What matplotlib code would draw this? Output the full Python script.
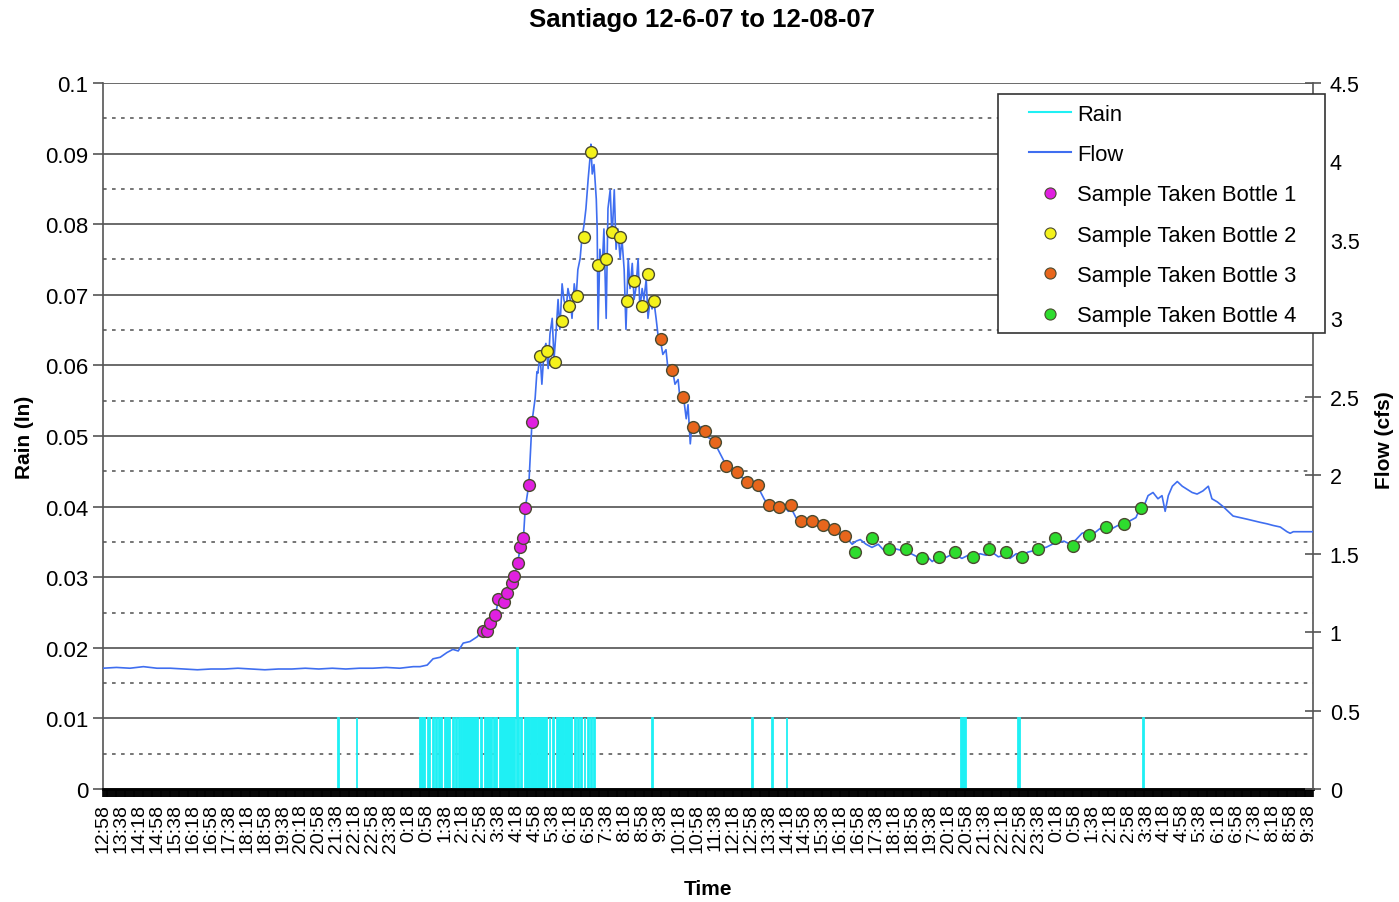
import numpy as np
import matplotlib
matplotlib.use("Agg")
import matplotlib.pyplot as plt
from matplotlib.lines import Line2D
from matplotlib.patches import Rectangle
from matplotlib.ticker import MultipleLocator

plt.rcParams['font.family'] = ['Liberation Sans', 'DejaVu Sans']

# time is in minutes after 12:58 on 12-6-07
time_labels = ["12:58", "13:38", "14:18", "14:58", "15:38", "16:18", "16:58", "17:38",
               "18:18", "18:58", "19:38", "20:18", "20:58", "21:38", "22:18", "22:58",
               "23:38", "0:18", "0:58", "1:38", "2:18", "2:58", "3:38", "4:18", "4:58",
               "5:38", "6:18", "6:58", "7:38", "8:18", "8:58", "9:38", "10:18", "10:58",
               "11:38", "12:18", "12:58", "13:38", "14:18", "14:58", "15:38", "16:18",
               "16:58", "17:38", "18:18", "18:58", "19:38", "20:18", "20:58", "21:38",
               "22:18", "22:58", "23:38", "0:18", "0:58", "1:38", "2:18", "2:58", "3:38",
               "4:18", "4:58", "5:38", "6:18", "6:58", "7:38", "8:18", "8:58", "9:38"]
label_step = 40  # minutes between time labels

rain_ticks = ["0", "0.01", "0.02", "0.03", "0.04", "0.05", "0.06", "0.07", "0.08", "0.09", "0.1"]
flow_ticks = ["0", "0.5", "1", "1.5", "2", "2.5", "3", "3.5", "4", "4.5"]

# rain periods (start minute, end minute, inches)
rain_start = [522, 564, 706, 710, 715, 722, 726, 733, 740, 747, 752, 760, 778, 786, 791, 797,
              801, 841, 849, 854, 869, 875, 883, 921, 923, 930, 938, 952, 968, 993, 1001, 1009,
              1027, 1049, 1056, 1064, 1071, 1078, 1086, 1093, 1221, 1444, 1488, 1520, 1909,
              2034, 2312]
rain_end = [524, 566, 708, 712, 717, 725, 728, 736, 742, 749, 755, 772, 780, 788, 794, 799,
            835, 843, 851, 865, 871, 877, 916, 923, 925, 932, 950, 966, 987, 995, 1003, 1025,
            1042, 1051, 1058, 1066, 1073, 1080, 1088, 1095, 1223, 1446, 1490, 1522, 1920,
            2040, 2314]
rain_in = [0.01, 0.01, 0.01, 0.01, 0.01, 0.01, 0.01, 0.01, 0.01, 0.01, 0.01, 0.01, 0.01, 0.01,
           0.01, 0.01, 0.01, 0.01, 0.01, 0.01, 0.01, 0.01, 0.01, 0.02, 0.01, 0.01, 0.01, 0.01,
           0.01, 0.01, 0.01, 0.01, 0.01, 0.01, 0.01, 0.01, 0.01, 0.01, 0.01, 0.01, 0.01, 0.01,
           0.01, 0.01, 0.01, 0.01, 0.01]

flow_t = [0, 30, 60, 90, 120, 150, 180, 210, 240, 270, 300, 330, 360, 390, 420, 450, 480, 510,
          540, 570, 600, 630, 660, 690,
          705, 721, 734, 750, 765, 778, 790, 801, 816, 832, 841, 846, 855, 861, 872, 879, 892,
          899, 909, 915, 922, 928, 935, 939, 947, 954, 961, 965,
          967, 972, 976, 981, 985, 990, 994, 999, 1003, 1008, 1012, 1016, 1021, 1025, 1030,
          1034, 1039, 1043, 1048, 1052, 1056, 1061, 1065, 1070, 1074, 1079, 1083, 1085, 1088,
          1092, 1097, 1099, 1101, 1105, 1110, 1114, 1119, 1123, 1128, 1132, 1137, 1141, 1145,
          1150, 1154, 1159, 1163, 1168, 1172, 1177, 1181, 1185, 1190, 1194, 1199, 1203, 1208,
          1212, 1217, 1221, 1226, 1230, 1234, 1239, 1245, 1252, 1257, 1261,
          1266, 1272, 1279, 1283, 1290, 1297, 1301, 1306, 1310, 1317, 1323, 1330, 1337, 1346,
          1354, 1363, 1372, 1381, 1390, 1399, 1408, 1417, 1426, 1435, 1443, 1452, 1461, 1470,
          1479, 1488, 1497, 1506, 1515, 1524, 1532, 1541, 1550, 1564, 1577, 1590, 1604, 1617,
          1630, 1644, 1657, 1666, 1675, 1684, 1697, 1710, 1724, 1737, 1750, 1764, 1777, 1790,
          1804, 1817, 1830, 1844, 1857, 1870, 1884, 1897, 1910, 1924, 1937, 1950, 1964, 1977,
          1991, 2004, 2017, 2031, 2044, 2057, 2071, 2084, 2097, 2111, 2124, 2137, 2151, 2164,
          2177, 2191, 2204, 2217, 2231, 2244, 2257, 2271, 2284, 2297, 2306, 2313, 2324, 2335,
          2346, 2355, 2362, 2369, 2378, 2389, 2400, 2411, 2422, 2433, 2446, 2458, 2466, 2478,
          2491, 2502, 2513, 2529, 2544, 2558, 2573, 2589, 2602, 2618, 2633, 2640, 2647, 2691]
flow_cfs = [0.77, 0.775, 0.77, 0.78, 0.77, 0.77, 0.765, 0.76, 0.765, 0.765, 0.77, 0.765, 0.76,
            0.765, 0.765, 0.77, 0.765, 0.77, 0.765, 0.77, 0.77, 0.775, 0.77, 0.78,
            0.78, 0.79, 0.83, 0.84, 0.87, 0.89, 0.88, 0.93, 0.94, 0.97, 1.00, 1.01, 1.01, 1.06,
            1.10, 1.20, 1.19, 1.25, 1.31, 1.36, 1.44, 1.54, 1.60, 1.79, 1.94, 2.34, 2.49, 2.66,
            2.65, 2.77, 2.58, 2.80, 2.84, 2.68, 2.90, 3.00, 2.74, 2.93, 3.12, 2.93, 3.22, 3.12,
            3.06, 3.19, 3.12, 3.00, 3.22, 3.12, 3.31, 3.38, 3.51, 3.60, 3.70, 3.89, 4.02, 4.11,
            3.92, 3.98, 3.76, 3.57, 2.93, 3.44, 3.31, 3.57, 3.00, 3.70, 3.82, 3.51, 3.82, 3.44,
            3.57, 3.38, 3.51, 3.31, 2.93, 3.38, 3.19, 3.35, 3.12, 3.19, 3.38, 3.06, 3.19, 3.12,
            3.25, 3.00, 3.12, 3.06, 3.09, 3.00, 2.90, 2.87, 2.77, 2.80, 2.66, 2.69,
            2.68, 2.58, 2.61, 2.49, 2.52, 2.36, 2.45, 2.20, 2.33, 2.29, 2.28, 2.31, 2.28, 2.24,
            2.23, 2.19, 2.14, 2.09, 2.05, 2.04, 2.01, 1.99, 1.98, 1.95, 1.94, 1.91, 1.90, 1.85,
            1.81, 1.83, 1.80, 1.78, 1.80, 1.77, 1.78, 1.73, 1.71, 1.71, 1.71, 1.70, 1.67, 1.66,
            1.64, 1.61, 1.59, 1.56, 1.58, 1.59, 1.56, 1.54, 1.56, 1.52, 1.54, 1.53, 1.52, 1.51,
            1.49, 1.47, 1.49, 1.45, 1.48, 1.47, 1.49, 1.49, 1.47, 1.49, 1.47, 1.50, 1.49, 1.51,
            1.48, 1.49, 1.47, 1.50, 1.49, 1.51, 1.52, 1.54, 1.54, 1.56, 1.57, 1.58, 1.56, 1.59,
            1.63, 1.64, 1.63, 1.66, 1.64, 1.66, 1.68, 1.68, 1.71, 1.73, 1.79, 1.79, 1.87, 1.89,
            1.85, 1.87, 1.77, 1.87, 1.93, 1.96, 1.93, 1.91, 1.89, 1.88, 1.90, 1.93, 1.85, 1.83,
            1.80, 1.77, 1.74, 1.73, 1.72, 1.71, 1.70, 1.69, 1.68, 1.67, 1.64, 1.63, 1.64, 1.64]

b1_t = [846, 855, 861, 872, 879, 892, 899, 909, 915, 922, 928, 935, 939, 947, 954]
b1_cfs = [1.01, 1.01, 1.06, 1.11, 1.21, 1.19, 1.25, 1.31, 1.36, 1.44, 1.54, 1.60, 1.79, 1.94, 2.34]
b2_t = [972, 988, 1006, 1020, 1037, 1054, 1069, 1086, 1100, 1118, 1133, 1150, 1165, 1181,
        1199, 1211, 1226]
b2_cfs = [2.76, 2.79, 2.72, 2.98, 3.08, 3.14, 3.52, 4.06, 3.34, 3.38, 3.55, 3.52, 3.11, 3.24,
          3.08, 3.28, 3.11]
b3_t = [1241, 1265, 1289, 1311, 1338, 1361, 1385, 1409, 1432, 1457, 1481, 1504, 1529, 1553,
        1577, 1601, 1626, 1650]
b3_cfs = [2.87, 2.67, 2.50, 2.31, 2.28, 2.21, 2.06, 2.02, 1.96, 1.94, 1.81, 1.80, 1.81, 1.71,
          1.71, 1.68, 1.66, 1.61]
b4_t = [1673, 1711, 1748, 1785, 1822, 1858, 1895, 1934, 1971, 2008, 2043, 2080, 2118, 2157,
        2192, 2231, 2271, 2308]
b4_cfs = [1.51, 1.60, 1.53, 1.53, 1.47, 1.48, 1.51, 1.48, 1.53, 1.51, 1.48, 1.53, 1.60, 1.55,
          1.62, 1.67, 1.69, 1.79]

RAIN_COLOR = '#1ff0f4'
FLOW_COLOR = '#3f6ef0'
EDGE = '#4a4a30'
bottles = [("Sample Taken Bottle 1", b1_t, b1_cfs, '#e020e0'),
           ("Sample Taken Bottle 2", b2_t, b2_cfs, '#f4f21c'),
           ("Sample Taken Bottle 3", b3_t, b3_cfs, '#e8661c'),
           ("Sample Taken Bottle 4", b4_t, b4_cfs, '#2edc2e')]

fig = plt.figure(figsize=(13.99, 9.03), dpi=100)
ax = fig.add_axes([0.0736, 0.1251, 0.865, 0.7819])
ax2 = ax.twinx()

# rain (left axis)
widths = np.array(rain_end) - np.array(rain_start)
ax.bar(rain_start, rain_in, width=widths, align='edge', color=RAIN_COLOR,
       edgecolor=RAIN_COLOR, linewidth=1.3, zorder=2)

ax.set_xlim(0, 2691)
ax.set_ylim(0, 0.1)
ax.set_yticks(np.arange(len(rain_ticks)) * 0.01)
ax.set_yticklabels(rain_ticks, fontsize=16)
ax.yaxis.set_minor_locator(MultipleLocator(0.005))
ax.grid(which='major', axis='y', color='#6a6a6a', lw=1.4, zorder=0)
ax.grid(which='minor', axis='y', color='#6a6a6a', lw=1.3, linestyle=(0, (2, 3)), zorder=0)
ax.set_axisbelow(True)
ax.tick_params(axis='y', which='major', direction='out', length=7, width=1.2, color='#555555')
ax.tick_params(axis='y', which='minor', length=0)

ax.set_xticks([label_step * i for i in range(len(time_labels))])
ax.set_xticklabels(time_labels, rotation=90, fontsize=14)
ax.xaxis.set_minor_locator(MultipleLocator(2))
ax.tick_params(axis='x', which='both', direction='out', length=6, width=1.2, color='black', pad=4)

for s in ['top', 'right']:
    ax.spines[s].set_visible(False)
ax.spines['left'].set_color('#555555')
ax.spines['left'].set_linewidth(1.2)
ax.spines['bottom'].set_color('black')
ax.spines['bottom'].set_linewidth(2)

# flow (right axis)
ax2.plot(flow_t, flow_cfs, color=FLOW_COLOR, lw=1.2, zorder=3)
for name, t, cfs, c in bottles:
    ax2.plot(t, cfs, 'o', ms=8.5, mfc=c, mec=EDGE, mew=1.0, zorder=4)
ax2.set_ylim(0, 4.5)
ax2.set_yticks(np.arange(len(flow_ticks)) * 0.5)
ax2.set_yticklabels(flow_ticks, fontsize=15.5)
ax2.tick_params(axis='y', direction='inout', length=12, width=1.2, color='#555555', pad=6)
for s in ['top', 'left', 'bottom']:
    ax2.spines[s].set_visible(False)
ax2.spines['right'].set_color('#555555')
ax2.spines['right'].set_linewidth(1.2)

# labels
fig.text(0.502, 1 - 20 / 903, "Santiago 12-6-07 to 12-08-07", ha='center', va='center',
         fontsize=18.5, fontweight='bold')
ax.set_xlabel("Time", fontsize=15, fontweight='bold')
ax.xaxis.set_label_coords(0.5, -0.127)
ax.set_ylabel("Rain (In)", fontsize=15, fontweight='bold')
ax.yaxis.set_label_coords(-0.057, 0.5)
ax2.set_ylabel("Flow (cfs)", fontsize=15, fontweight='bold', rotation=90)
ax2.yaxis.set_label_coords(1.051, 0.495)

# legend box drawn separately to get the wide side padding
box = Rectangle((0.7397, 0.646), 0.2702, 0.3384, transform=ax2.transAxes, facecolor='white',
                edgecolor='#333333', lw=1.2, clip_on=False, zorder=6)
ax2.add_patch(box)
handles = [Line2D([], [], color=RAIN_COLOR, lw=1.5),
           Line2D([], [], color=FLOW_COLOR, lw=1.5)]
labels = ["Rain", "Flow"]
for name, t, cfs, c in bottles:
    handles.append(Line2D([], [], ls='none', marker='o', ms=8, mfc=c, mec=EDGE, mew=0.8))
    labels.append(name)
leg = ax2.legend(handles, labels, loc='upper left', bbox_to_anchor=(0.765, 0.9705),
                 frameon=False, fontsize=15.8, handlelength=1.92, handletextpad=0.3,
                 labelspacing=0.88, borderpad=0, borderaxespad=0)
leg.set_zorder(7)

fig.savefig("out.png", dpi=100)
